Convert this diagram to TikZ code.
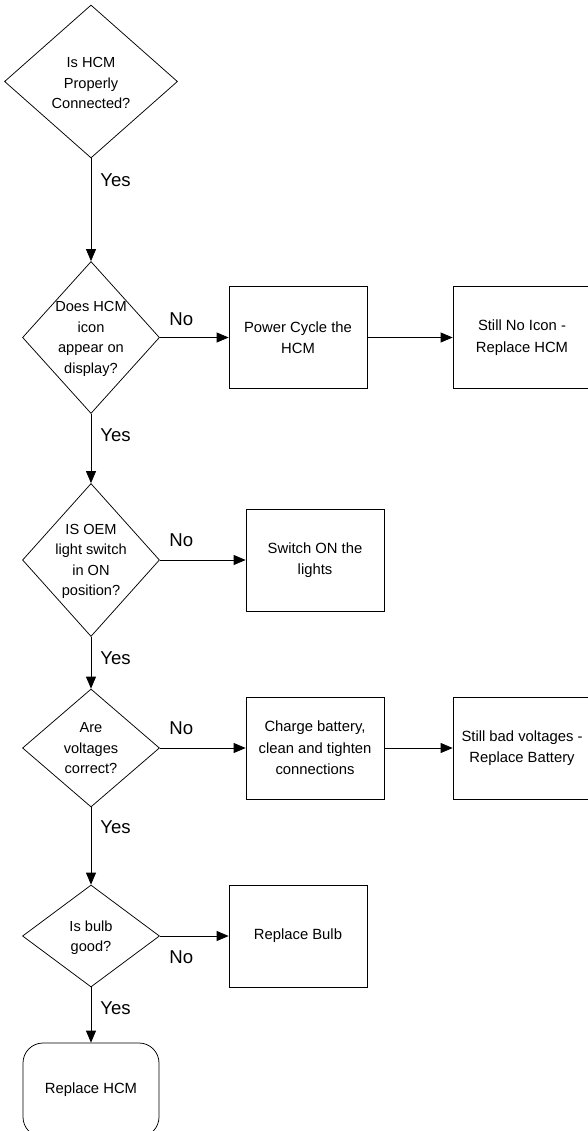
\documentclass[tikz,border=0pt]{standalone}
\usepackage{fontspec}
\setmainfont{Liberation Sans}
\usetikzlibrary{shapes.geometric,arrows.meta}

\begin{document}
\begin{tikzpicture}[x=1pt, y=-1pt, line width=0.75pt,
    decision/.style={diamond, draw, inner sep=0pt},
    qtext/.style={align=center, inner sep=0pt, font=\fontsize{14.6}{20.5}\selectfont},
    action/.style={rectangle, draw, minimum width=138pt, minimum height=102pt, align=center, font=\fontsize{14.8}{21.5}\selectfont},
    finish/.style={rectangle, draw, rounded corners=20pt, minimum width=136pt, minimum height=94pt, align=center, font=\fontsize{14.8}{21.5}\selectfont},
    answer/.style={anchor=west, inner sep=0pt, font=\fontsize{18.6}{20}\selectfont},
    flow/.style={-{Triangle[length=12pt, width=10pt]}}]
                % Frame
                \useasboundingbox (0,0) rectangle (588,1131);
                \clip (0,0) rectangle (588,1131);
                % Decisions
                \node[decision, minimum width=173pt, minimum height=153pt] (q1) at (91,81.5) {};
                \node[decision, minimum width=137pt, minimum height=152pt] (q2) at (91,337.5) {};
                \node[decision, minimum width=137pt, minimum height=153pt] (q3) at (91,560) {};
                \node[decision, minimum width=137pt, minimum height=118pt] (q4) at (91,748) {};
                \node[decision, minimum width=137pt, minimum height=102pt] (q5) at (91,936) {};
                \node[qtext] (q1t) at (91,83) {Is HCM\\Properly\\Connected?};
                \node[qtext] (q2t) at (91,339) {Does HCM\\icon\\appear on\\display?};
                \node[qtext] (q3t) at (91,561.5) {IS OEM\\light switch\\in ON\\position?};
                \node[qtext] (q4t) at (91,748.5) {Are\\voltages\\correct?};
                \node[qtext] (q5t) at (91,937.5) {Is bulb\\good?};
                % Actions
                \node[action] (powercycle) at (298,337.5) {Power Cycle the\\HCM};
                \node[action] (noicon) at (522,337.5) {Still No Icon -\\Replace HCM};
                \node[action] (switchon) at (315,560) {Switch ON the\\lights};
                \node[action] (charge) at (315,748) {Charge battery,\\clean and tighten\\connections};
                \node[action] (badvolt) at (522,748) {Still bad voltages -\\Replace Battery};
                \node[action] (bulb) at (298,936) {Replace Bulb};
                \node[finish] (hcm) at (91,1090) {Replace HCM};
                % Yes branch
                \draw[flow] (q1.south) -- (q2.north);
                \draw[flow] (q2.south) -- (q3.north);
                \draw[flow] (q3.south) -- (q4.north);
                \draw[flow] (q4.south) -- (q5.north);
                \draw[flow] (q5.south) -- (hcm.north);
                % No branch
                \draw[flow] (q2.east) -- (powercycle.west);
                \draw[flow] (powercycle.east) -- (noicon.west);
                \draw[flow] (q3.east) -- (switchon.west);
                \draw[flow] (q4.east) -- (charge.west);
                \draw[flow] (charge.east) -- (badvolt.west);
                \draw[flow] (q5.east) -- (bulb.west);
                % Answers
                \node[answer] (yes1) at (100,180) {Yes};
                \node[answer] (yes2) at (100,435) {Yes};
                \node[answer] (yes3) at (100,658) {Yes};
                \node[answer] (yes4) at (100,827) {Yes};
                \node[answer] (yes5) at (100,1008) {Yes};
                \node[answer] (no2) at (169,319) {No};
                \node[answer] (no3) at (169,540) {No};
                \node[answer] (no4) at (169,728) {No};
                \node[answer] (no5) at (169,957) {No};
\end{tikzpicture}
\end{document}
